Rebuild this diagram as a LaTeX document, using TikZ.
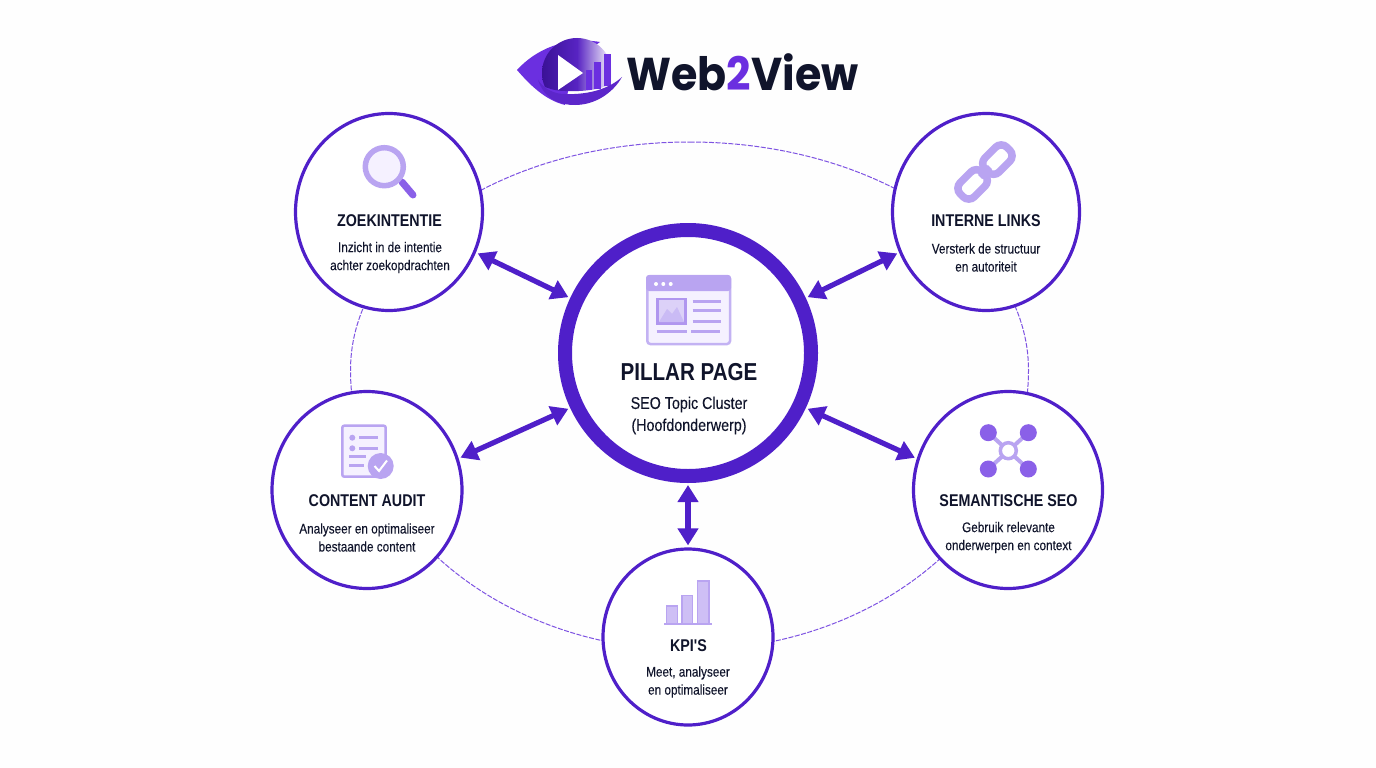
\documentclass[tikz,border=0pt]{standalone}
\usepackage{fontspec}
\usetikzlibrary{arrows.meta,shapes.geometric}
\setmainfont{Liberation Sans}
\newfontfamily\narrowreg[FakeStretch=0.84,FakeBold=0.12]{Liberation Sans}
\newfontfamily\narrowbold[FakeStretch=0.84]{Liberation Sans Bold}
\newfontfamily\logofont[FakeStretch=0.93]{Poppins Bold}
\definecolor{ring}{HTML}{4F1FC9}
\definecolor{ink}{HTML}{10142B}
\definecolor{lite}{HTML}{B9A4F1}
\definecolor{midp}{HTML}{8A60E8}
\definecolor{pale}{HTML}{F5F1FF}
\definecolor{logop}{HTML}{6B2FE0}
\definecolor{logod}{HTML}{3A1296}
\tikzset{
  x=1pt,y=-1pt,
  circ/.style={draw=ring,fill=white,line width=3.2pt,shape=ellipse,inner sep=0pt},
  ttl/.style={font=\narrowbold\fontsize{17}{18}\selectfont,text=ink,inner sep=0pt},
  dsc/.style={font=\narrowreg\fontsize{14}{18}\selectfont,text=ink,inner sep=0pt,align=center},
  link/.style={draw=ring,line width=5.2pt,{Triangle[length=17pt,width=20pt]}-{Triangle[length=17pt,width=20pt]},shorten <=2pt,shorten >=2pt},
  orbit/.style={draw=midp!80!ring,line width=1pt,dash pattern=on 5pt off 1.5pt},
  litestroke/.style={draw=lite,line width=2.5pt},
  barline/.style={draw=lite,line width=3pt}
}
\begin{document}
\begin{tikzpicture}
\fill[white!99.5!black] (0,0) rectangle (1376,768);
\useasboundingbox (0,0) rectangle (1376,768);

% orbit
\draw[orbit] (689.5,142) .. controls (876.5,142) and (1028.5,244) .. (1028.5,370)
  .. controls (1028.5,525) and (876.5,650) .. (689.5,650)
  .. controls (502.5,650) and (350.5,525) .. (350.5,370)
  .. controls (350.5,244) and (502.5,142) .. (689.5,142) -- cycle;

% circles
\node[circ,minimum width=187pt,minimum height=197pt] (zoek) at (389,212) {};
\node[circ,minimum width=187pt,minimum height=197pt] (intern) at (986,212) {};
\node[circ,minimum width=190pt,minimum height=197pt] (audit) at (367,490) {};
\node[circ,minimum width=189pt,minimum height=197pt] (sem) at (1008,490) {};
\node[circ,minimum width=170pt,minimum height=176pt] (kpi) at (688,637) {};
\node[shape=circle,draw=ring,fill=white,line width=14pt,minimum size=246pt,inner sep=0pt] (pillar) at (688,353) {};

% connectors
\draw[link] (zoek.-25) -- (pillar.155);
\draw[link] (intern.205) -- (pillar.25);
\draw[link] (audit.19) -- (pillar.205);
\draw[link] (sem.161) -- (pillar.-25);
\draw[link] (kpi.north) -- (pillar.south);

% logo
\fill[logop] (517,70) .. controls (535,50) and (565,36) .. (600,42) -- (575,60) -- (565,105) .. controls (545,100) and (530,85) .. (517,70) -- cycle;
\begin{scope}
\clip (535,30) -- (625,30) -- (625,76) -- (622,77) .. controls (610,88) and (590,92) .. (565,91) .. controls (555,91) and (545,88) .. (535,82) -- cycle;
\shade[left color=logod,right color=white,middle color=logop!60!logod] (577,73) circle (35);
\end{scope}
\fill[white] (558,55) -- (558,90) -- (583,73) -- cycle;
\fill[logop] (586,70) rectangle (592,90);
\fill[logop] (594,62) rectangle (601,89);
\fill[logop] (604,54) rectangle (611,86);
\fill[logop!70!logod] (538,80) .. controls (545,100) and (560,105) .. (575,105) .. controls (595,105) and (613,93) .. (622,77) .. controls (610,88) and (590,95) .. (565,94) .. controls (555,94) and (545,90) .. (538,80) -- cycle;
\node[font=\logofont\fontsize{46}{46}\selectfont,text=ink,inner sep=0pt,anchor=base] (logo) at (742.5,90) {Web\textcolor{logop}{2}View};

% magnifier
\draw[draw=midp,line width=7pt,line cap=round] (402,182) -- (413,195);
\draw[draw=lite,fill=pale,line width=5.5pt] (384.3,166.7) circle (19);

% chain
\begin{scope}[shift={(985,172)},rotate=45]
\draw[lite,line width=7.5pt,rounded corners=8pt] (-2,-10) rectangle (-33,10);
\draw[lite,line width=7.5pt,rounded corners=8pt] (2,-10) rectangle (33,10);
\draw[lite,line width=6pt] (-7,0) -- (7,0);
\end{scope}

% browser
\draw[draw=lite!85!white,fill=pale,line width=2.5pt,rounded corners=3pt] (647.3,276) rectangle (730,344);
\fill[lite,rounded corners=3pt] (646,275) rectangle (731,291);
\fill[white] (656,284) circle (2);
\fill[white] (663.3,284) circle (2);
\fill[white] (670.7,284) circle (2);
\draw[draw=lite!80!midp,fill=lite!50!white,line width=2.5pt] (657.3,299) rectangle (685.3,323.3);
\fill[lite!75!white] (659,322) -- (667,309) -- (672,314) -- (677,307) -- (684,322) -- cycle;
\draw[barline] (692.7,301) -- (720.7,301);
\draw[barline] (692.7,310.7) -- (720.7,310.7);
\draw[barline] (692.7,321) -- (720.7,321);
\draw[barline] (656.7,331.7) -- (686.7,331.7);
\draw[barline] (691.3,331.7) -- (720,331.7);

% audit icon
\draw[litestroke,fill=pale,rounded corners=2pt] (342.3,425.7) rectangle (385.7,476.7);
\fill[lite] (352.3,437.7) circle (3);
\fill[lite] (352.3,448.3) circle (3);
\draw[barline] (359,437.7) -- (378.3,437.7);
\draw[barline] (359,448.3) -- (378.3,448.3);
\draw[barline] (349.3,456.7) -- (365.7,456.7);
\draw[barline] (349.3,465) -- (364,465);
\fill[lite] (380.7,466) circle (13);
\draw[white,line width=2pt] (374.5,466) -- (379,471) -- (387,460.5);

% semantic icon
\draw[draw=lite,line width=4pt] (988.3,432.7) -- (1028.3,469);
\draw[draw=lite,line width=4pt] (1028.3,432.7) -- (988.3,469);
\draw[draw=lite,fill=white,line width=3.5pt] (1008.3,450.7) circle (8);
\fill[midp] (988.3,432.7) circle (8.5);
\fill[midp] (1028.3,432.7) circle (8.5);
\fill[midp] (988.3,469) circle (8.5);
\fill[midp] (1028.3,469) circle (8.5);

% kpi icon
\draw[draw=lite,fill=lite!70!white,line width=1.5pt] (666.7,606) rectangle (677.3,623.3);
\draw[draw=lite,fill=lite!70!white,line width=1.5pt] (682,595.3) rectangle (692.7,623.3);
\draw[draw=lite,fill=lite!70!white,line width=1.5pt] (697.7,581) rectangle (709,623.3);
\draw[draw=lite,line width=2pt] (664,623.5) -- (711.7,623.5);

% texts
\node[ttl] (t1) at (389.5,221) {ZOEKINTENTIE};
\node[dsc] (d1) at (390,257.5) {Inzicht in de intentie\\achter zoekopdrachten};
\node[ttl] (t2) at (986,221) {INTERNE LINKS};
\node[dsc] (d2) at (986,257.5) {Versterk de structuur\\en autoriteit};
\node[ttl] (t3) at (367,501) {CONTENT AUDIT};
\node[dsc] (d3) at (367,537.5) {Analyseer en optimaliseer\\bestaande content};
\node[ttl] (t4) at (1008.5,501) {SEMANTISCHE SEO};
\node[dsc] (d4) at (1008.5,537.5) {Gebruik relevante\\onderwerpen en context};
\node[ttl] (t5) at (688.5,646) {KPI'S};
\node[dsc] (d5) at (688,682) {Meet, analyseer\\en optimaliseer};
\node[font=\narrowbold\fontsize{24.5}{26}\selectfont,text=ink,inner sep=0pt] (t0) at (689,372) {PILLAR PAGE};
\node[font=\narrowreg\fontsize{17}{22}\selectfont,text=ink,inner sep=0pt,align=center] (d0) at (689,415.5) {SEO Topic Cluster\\(Hoofdonderwerp)};
\end{tikzpicture}
\end{document}
